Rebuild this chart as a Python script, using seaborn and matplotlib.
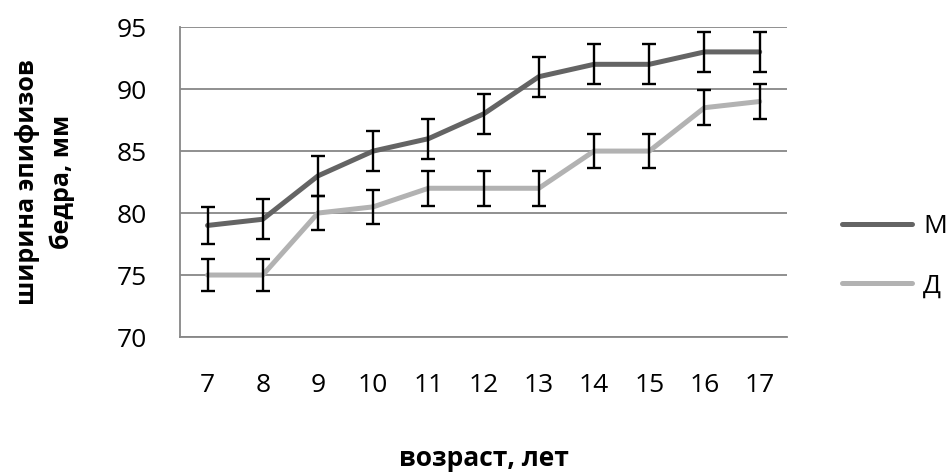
import numpy as np
import pandas as pd
import matplotlib
matplotlib.use("Agg")
import matplotlib.pyplot as plt
import seaborn as sns

# data
ages = [7, 8, 9, 10, 11, 12, 13, 14, 15, 16, 17]
m_values = [79.0, 79.5, 83.0, 85.0, 86.0, 88.0, 91.0, 92.0, 92.0, 93.0, 93.0]
d_values = [75.0, 75.0, 80.0, 80.5, 82.0, 82.0, 82.0, 85.0, 85.0, 88.5, 89.0]
m_err = [1.5, 1.6, 1.6, 1.6, 1.6, 1.6, 1.6, 1.6, 1.6, 1.6, 1.6]
d_err = [1.3, 1.3, 1.4, 1.4, 1.4, 1.4, 1.4, 1.4, 1.4, 1.4, 1.4]
y_ticks = [70, 75, 80, 85, 90, 95]

df = pd.DataFrame({
    'age': ages * 2,
    'value': m_values + d_values,
    'err': m_err + d_err,
    'group': ['М'] * len(ages) + ['Д'] * len(ages),
})

sns.set_style("white")
plt.rcParams['font.family'] = ['Open Sans', 'DejaVu Sans']
plt.rcParams['text.color'] = 'black'
plt.rcParams['axes.labelcolor'] = 'black'

fig = plt.figure(figsize=(9.52, 4.76), dpi=100)
ax = fig.add_axes([0.189, 0.292, 0.638, 0.651])

grid_col = '#878787'
palette = {'М': '#646464', 'Д': '#b2b2b2'}

for y in y_ticks:
    ax.axhline(y, color=grid_col, lw=1.3, zorder=0)

sns.lineplot(data=df, x='age', y='value', hue='group', palette=palette,
             lw=3.6, ax=ax, zorder=2, solid_capstyle='round')

for g in ['М', 'Д']:
    sub = df[df['group'] == g]
    ax.errorbar(sub['age'], sub['value'], yerr=sub['err'], fmt='none',
                ecolor='black', elinewidth=1.7, capsize=5.2, capthick=1.7, zorder=3)

ax.set_xlim(6.5, 17.5)
ax.set_ylim(70, 95)
ax.set_yticks(y_ticks)
ax.set_xticks(ages)
ax.set_xticks(np.arange(6.5, 18, 1), minor=True)
ax.tick_params(axis='x', which='major', length=0, pad=26, labelsize=19, labelcolor='black')
ax.tick_params(axis='x', which='minor', length=7, width=1.3, color=grid_col, direction='out')
ax.tick_params(axis='y', length=7, width=1.3, color=grid_col, direction='out', pad=17,
               labelsize=19, labelcolor='black')

for s in ['top', 'right']:
    ax.spines[s].set_visible(False)
for s in ['left', 'bottom']:
    ax.spines[s].set_color(grid_col)
    ax.spines[s].set_linewidth(1.3)

ax.set_xlabel('возраст, лет', fontsize=19, fontweight='bold', labelpad=34)
ax.set_ylabel('ширина эпифизов\nбедра, мм', fontsize=18, fontweight='bold', labelpad=30,
              linespacing=1.45)

handles, labels = ax.get_legend_handles_labels()
ax.legend(handles, labels, loc='center left', bbox_to_anchor=(1.073, 0.26), frameon=False,
          fontsize=19, handlelength=2.65, handletextpad=0.42, labelspacing=1.3,
          borderaxespad=0)

fig.savefig('out.png', dpi=100)
